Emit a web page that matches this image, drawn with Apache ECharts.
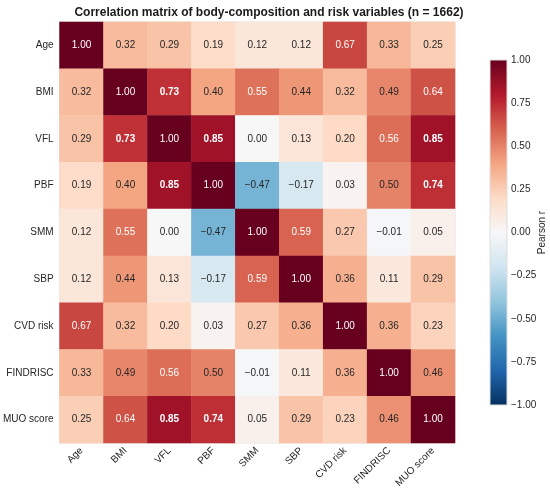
<!DOCTYPE html>
<html lang="en">
<head>
<meta charset="utf-8">
<title>Correlation matrix</title>
<script src="https://cdn.jsdelivr.net/npm/echarts@6/dist/echarts.min.js"></script>
<style>
  html, body { margin: 0; padding: 0; background: #fff; }
  #chart { width: 550px; height: 492px; }
</style>
</head>
<body>
<div id="chart"></div>
<script>
// variables (rows and columns share the same order)
var variables = ['Age', 'BMI', 'VFL', 'PBF', 'SMM', 'SBP', 'CVD risk', 'FINDRISC', 'MUO score'];

// Pearson r, one array per row
var rowAge      = [1.00, 0.32, 0.29, 0.19, 0.12, 0.12, 0.67, 0.33, 0.25];
var rowBMI      = [0.32, 1.00, 0.73, 0.40, 0.55, 0.44, 0.32, 0.49, 0.64];
var rowVFL      = [0.29, 0.73, 1.00, 0.85, 0.00, 0.13, 0.20, 0.56, 0.85];
var rowPBF      = [0.19, 0.40, 0.85, 1.00, -0.47, -0.17, 0.03, 0.50, 0.74];
var rowSMM      = [0.12, 0.55, 0.00, -0.47, 1.00, 0.59, 0.27, -0.01, 0.05];
var rowSBP      = [0.12, 0.44, 0.13, -0.17, 0.59, 1.00, 0.36, 0.11, 0.29];
var rowCVD      = [0.67, 0.32, 0.20, 0.03, 0.27, 0.36, 1.00, 0.36, 0.23];
var rowFINDRISC = [0.33, 0.49, 0.56, 0.50, -0.01, 0.11, 0.36, 1.00, 0.46];
var rowMUO      = [0.25, 0.64, 0.85, 0.74, 0.05, 0.29, 0.23, 0.46, 1.00];

var matrix = [rowAge, rowBMI, rowVFL, rowPBF, rowSMM, rowSBP, rowCVD, rowFINDRISC, rowMUO];

// RdBu_r, low -> high
var rdbu = ['#053061', '#2166ac', '#4393c3', '#92c5de', '#d1e5f0', '#f7f7f7',
            '#fddbc7', '#f4a582', '#d6604d', '#b2182b', '#67001f'];

var textDark = '#262626';
var font = '"Liberation Sans", Arial, sans-serif';

function fmt(v) {
    var s = Math.abs(v).toFixed(2);
    return v < 0 ? '\u2212' + s : s;
}

var cells = [];
matrix.forEach(function (row, i) {
    row.forEach(function (v, j) {
        cells.push({
            value: [j, i, v],
            label: {
                color: Math.abs(v) > 0.5 ? '#ffffff' : textDark,
                fontWeight: (i !== j && Math.abs(v) >= 0.7) ? 'bold' : 'normal'
            }
        });
    });
});

// colorbar fill, bottom (-1) to top (+1)
var barStops = rdbu.map(function (c, k) {
    return { offset: k / (rdbu.length - 1), color: c };
});
var barFill = new echarts.graphic.LinearGradient(0, 1, 0, 0, barStops);

var myChart = echarts.init(document.getElementById('chart'));
myChart.setOption({
    backgroundColor: '#ffffff',
    animation: false,
    textStyle: { fontFamily: font },
    title: {
        text: 'Correlation matrix of body-composition and risk variables (n = 1662)',
        left: 264,
        top: 2,
        textAlign: 'center',
        textStyle: { fontFamily: font, fontSize: 12, fontWeight: 'bold', color: '#1a1a1a' }
    },
    grid: [
        { left: 57, right: 95, top: 22, bottom: 49, show: true, borderColor: '#dddddd', borderWidth: 1, backgroundColor: 'transparent' },
        { left: 490, width: 17, top: 60, height: 345, show: true, borderColor: '#dddddd', borderWidth: 1, backgroundColor: barFill }
    ],
    xAxis: [
        {
            type: 'category',
            data: variables,
            gridIndex: 0,
            axisLine: { show: false },
            axisTick: { show: false },
            splitLine: { show: false },
            axisLabel: { rotate: 45, margin: 6, fontSize: 10, color: textDark, fontFamily: font, interval: 0 }
        },
        { type: 'value', gridIndex: 1, show: false, min: 0, max: 1 }
    ],
    yAxis: [
        {
            type: 'category',
            data: variables,
            inverse: true,
            gridIndex: 0,
            axisLine: { show: false },
            axisTick: { show: false },
            splitLine: { show: false },
            axisLabel: { margin: 6, fontSize: 10, color: textDark, fontFamily: font, interval: 0 }
        },
        {
            type: 'value',
            gridIndex: 1,
            position: 'right',
            min: -1,
            max: 1,
            interval: 0.25,
            axisLine: { show: false },
            axisTick: { show: false },
            splitLine: { show: false },
            axisLabel: {
                margin: 4,
                fontSize: 10,
                color: textDark,
                fontFamily: font,
                formatter: function (v) { return fmt(v); }
            },
            name: 'Pearson r',
            nameLocation: 'middle',
            nameGap: 30,
            nameRotate: 90,
            nameMoveOverlap: false,
            nameTextStyle: { fontSize: 10, color: textDark, fontFamily: font }
        }
    ],
    visualMap: {
        type: 'continuous',
        min: -1,
        max: 1,
        seriesIndex: 0,
        show: false,
        inRange: { color: rdbu }
    },
    series: [
        {
            type: 'heatmap',
            xAxisIndex: 0,
            yAxisIndex: 0,
            data: cells,
            label: {
                show: true,
                fontSize: 10,
                fontFamily: font,
                formatter: function (p) { return fmt(p.value[2]); }
            },
            emphasis: { disabled: true }
        }
    ]
});
</script>
</body>
</html>
